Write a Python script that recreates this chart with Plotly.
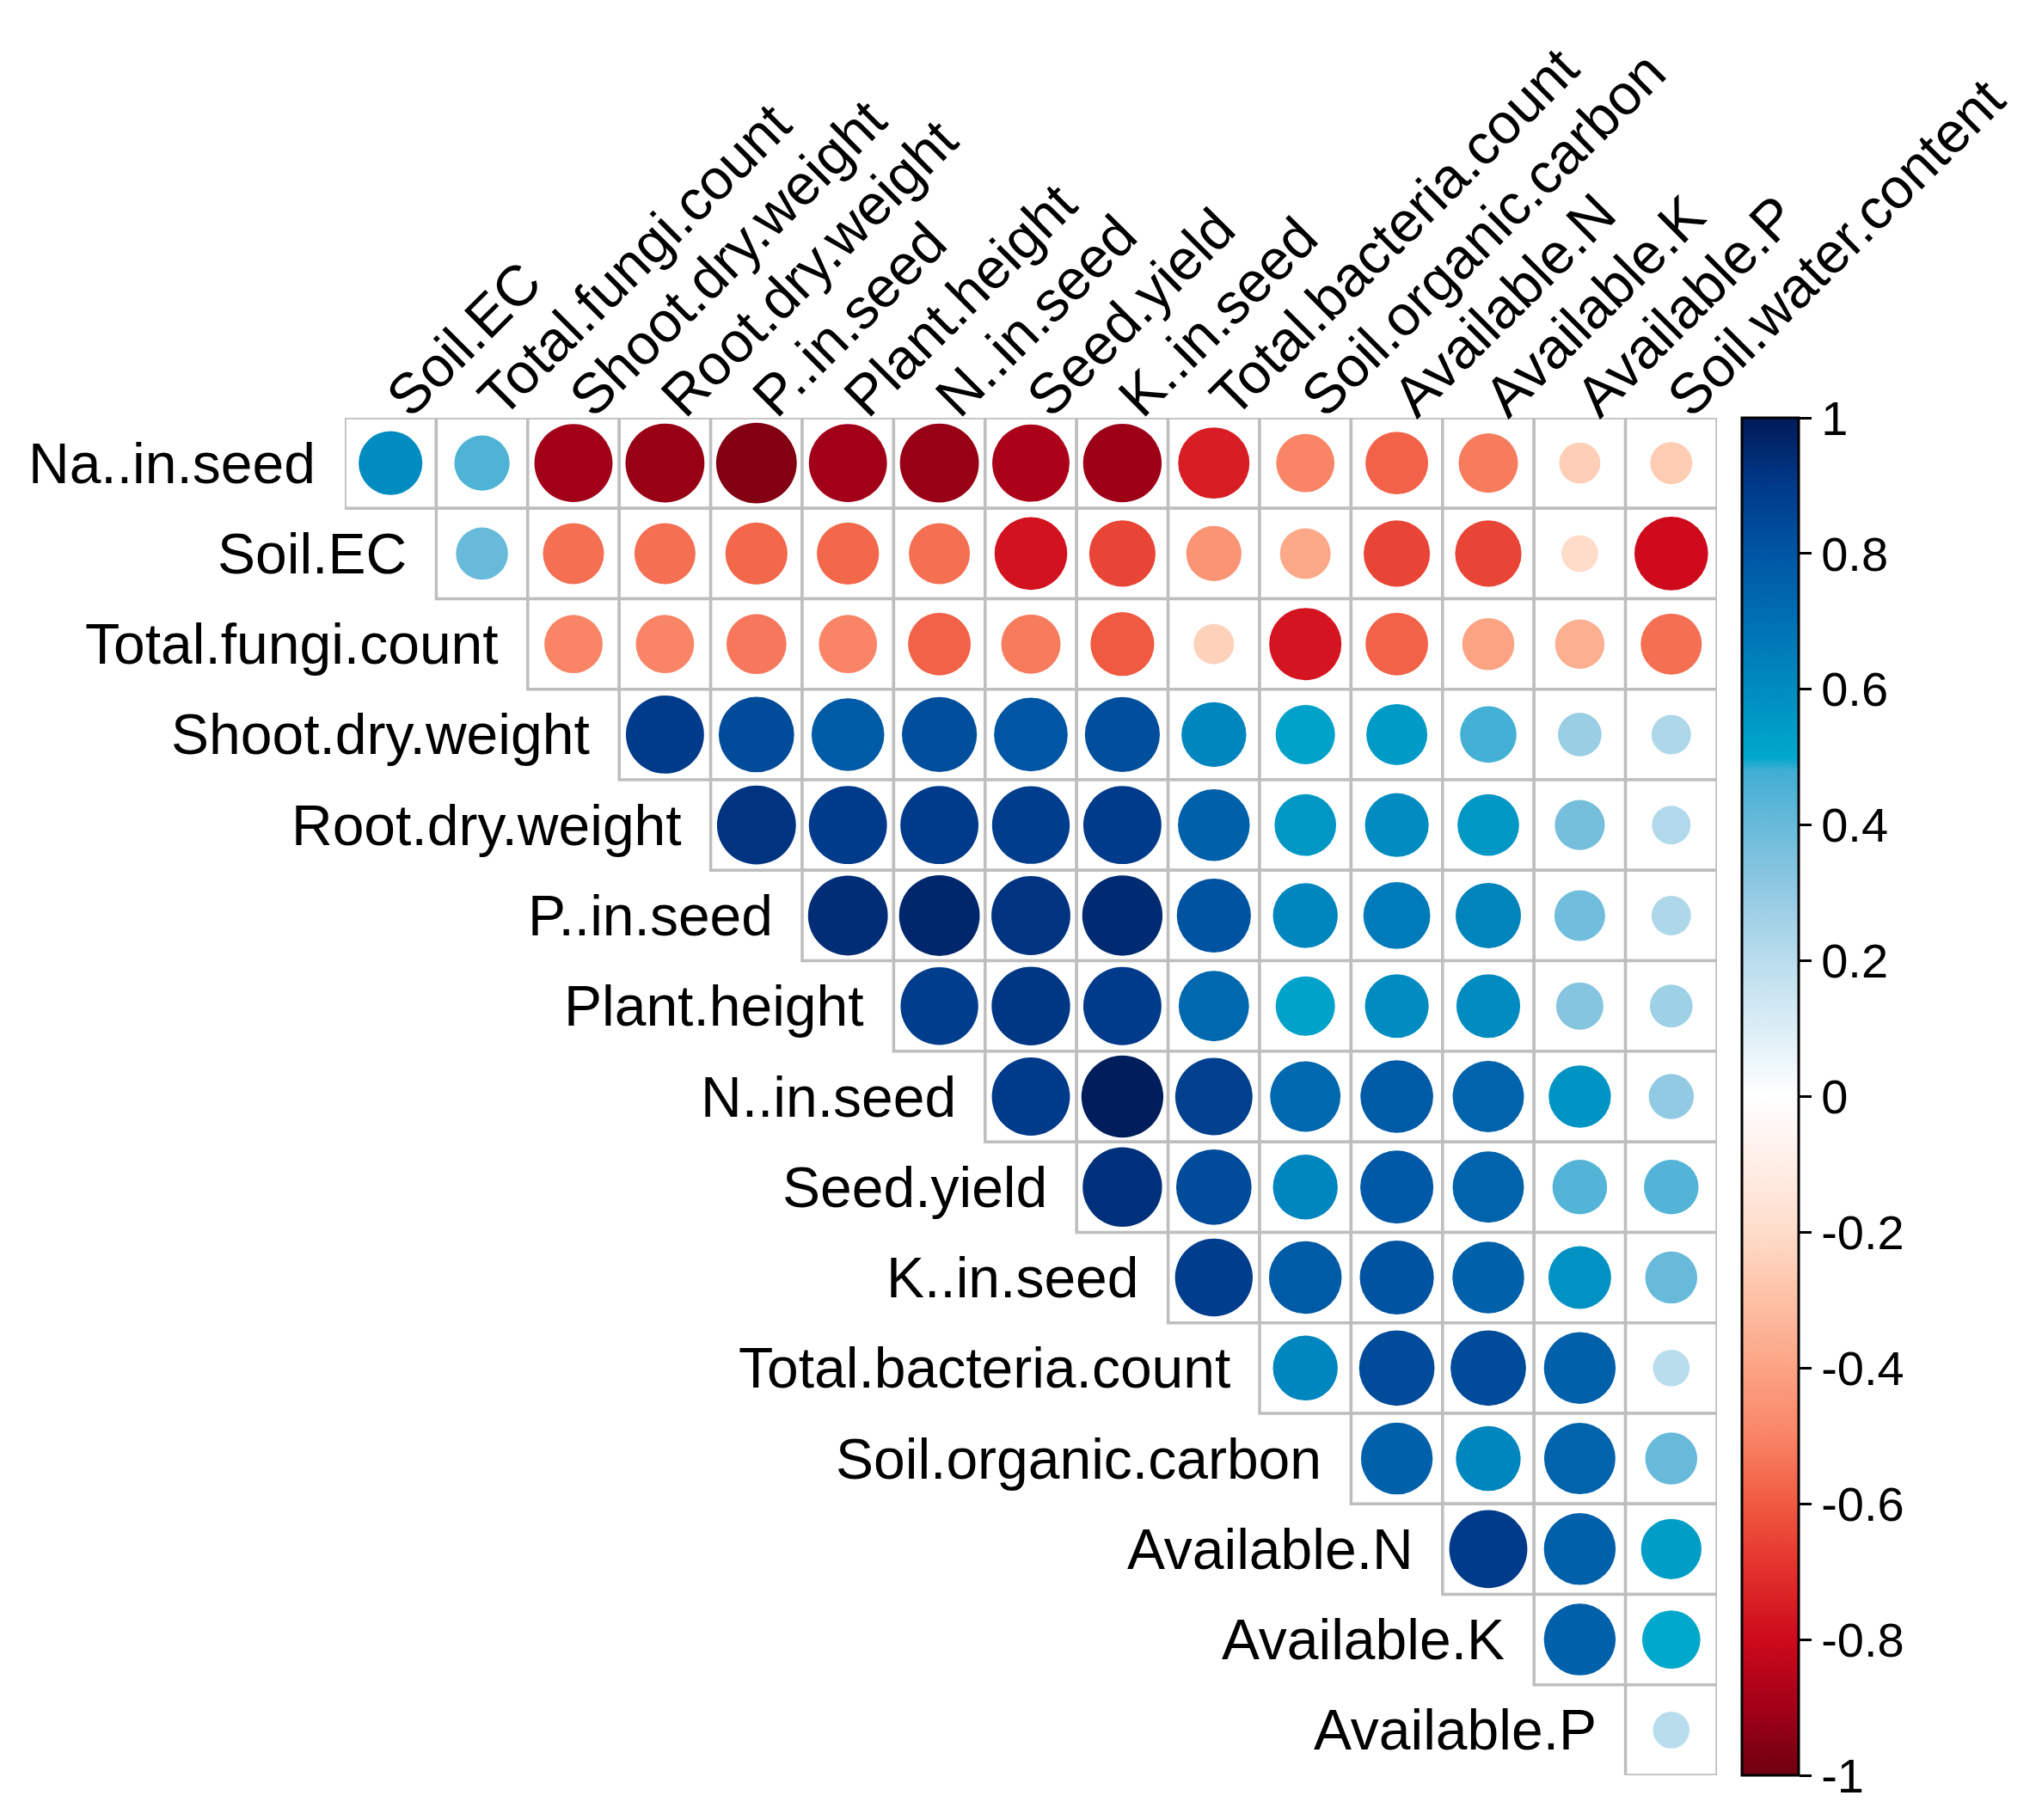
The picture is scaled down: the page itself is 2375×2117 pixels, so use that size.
import plotly.graph_objects as go

# variable names (rows use the first 15, columns the last 15)
variaveis = ['Na..in.seed', 'Soil.EC', 'Total.fungi.count', 'Shoot.dry.weight',
             'Root.dry.weight', 'P..in.seed', 'Plant.height', 'N..in.seed',
             'Seed.yield', 'K..in.seed', 'Total.bacteria.count',
             'Soil.organic.carbon', 'Available.N', 'Available.K', 'Available.P',
             'Soil.water.content']

# correlations, upper triangle, one list per row (starting at the diagonal+1)
na_seed = [0.60, 0.45, -0.90, -0.92, -0.96, -0.90, -0.92, -0.88, -0.91, -0.75, -0.50, -0.58, -0.52, -0.25, -0.26]
soil_ec = [0.40, -0.55, -0.55, -0.57, -0.57, -0.55, -0.78, -0.65, -0.45, -0.38, -0.65, -0.65, -0.20, -0.80]
fungi = [-0.50, -0.50, -0.53, -0.50, -0.58, -0.52, -0.60, -0.24, -0.77, -0.58, -0.40, -0.36, -0.55]
shoot = [0.90, 0.84, 0.78, 0.83, 0.80, 0.83, 0.62, 0.52, 0.55, 0.47, 0.28, 0.23]
root = [0.92, 0.90, 0.90, 0.89, 0.90, 0.76, 0.56, 0.60, 0.56, 0.37, 0.22]
p_seed = [0.94, 0.96, 0.92, 0.95, 0.81, 0.62, 0.66, 0.63, 0.38, 0.23]
plant_h = [0.89, 0.91, 0.90, 0.73, 0.52, 0.60, 0.60, 0.33, 0.27]
n_seed = [0.90, 0.99, 0.88, 0.73, 0.78, 0.75, 0.57, 0.30]
seed_yield = [0.93, 0.84, 0.62, 0.79, 0.75, 0.44, 0.44]
k_seed = [0.89, 0.78, 0.81, 0.76, 0.58, 0.40]
bacteria = [0.62, 0.84, 0.84, 0.76, 0.20]
soc = [0.76, 0.62, 0.75, 0.40]
avail_n = [0.90, 0.76, 0.54]
avail_k = [0.76, 0.50]
avail_p = [0.20]

linhas = [na_seed, soil_ec, fungi, shoot, root, p_seed, plant_h, n_seed,
          seed_yield, k_seed, bacteria, soc, avail_n, avail_k, avail_p]

nomes_linhas = variaveis[:15]
nomes_colunas = variaveis[1:]

# colour ramp
escala = [[0.00, '#6E0010'], [0.05, '#A20018'], [0.10, '#CE0A1C'], [0.15, '#E2302C'],
          [0.20, '#F05A40'], [0.25, '#F98466'], [0.30, '#FCA384'], [0.35, '#FDC0A4'],
          [0.40, '#FFDCCA'], [0.45, '#FFEEE6'], [0.50, '#FFFFFF'], [0.55, '#DCEEF6'],
          [0.60, '#BADDED'], [0.65, '#92CAE3'], [0.70, '#68BADA'], [0.74, '#40AED4'],
          [0.75, '#00A8CC'], [0.80, '#008CC0'], [0.85, '#0070B4'], [0.90, '#0056A4'],
          [0.95, '#003A8A'], [1.00, '#001A57']]

largura, altura = 2375, 2117
m_l, m_r, m_t, m_b = 393, 386, 478, 60
celula = (largura - m_l - m_r) / 15

xs, ys, vals = [], [], []
for i, linha in enumerate(linhas):
    for k, v in enumerate(linha):
        xs.append(i + k)
        ys.append(i)
        vals.append(v)

tamanhos = [0.9 * abs(v) ** 0.5 * celula for v in vals]

fig = go.Figure()

# grid cells
for i, linha in enumerate(linhas):
    for k in range(len(linha)):
        j = i + k
        fig.add_shape(type='rect', x0=j - 0.5, x1=j + 0.5, y0=i - 0.5, y1=i + 0.5,
                      line=dict(color='#BEBEBE', width=3.5), fillcolor='white', layer='below')

fig.add_trace(go.Scatter(
    x=xs, y=ys, mode='markers',
    marker=dict(size=tamanhos, color=vals, colorscale=escala, cmin=-1, cmax=1,
                line=dict(width=0), opacity=1,
                colorbar=dict(x=1.018, xanchor='left', y=0.5, yanchor='middle',
                              len=1.0, lenmode='fraction', thickness=66,
                              outlinewidth=3, outlinecolor='black',
                              ticks='outside', ticklen=14, tickwidth=3, tickcolor='black',
                              tickvals=[1, 0.8, 0.6, 0.4, 0.2, 0, -0.2, -0.4, -0.6, -0.8, -1],
                              ticktext=['1', '0.8', '0.6', '0.4', '0.2', '0', '-0.2', '-0.4', '-0.6', '-0.8', '-1'],
                              tickfont=dict(family='Liberation Sans', size=56, color='black'),
                              xpad=0, ypad=0)),
    hoverinfo='skip', showlegend=False))

# row labels, each ending before its first cell
for i, nome in enumerate(nomes_linhas):
    fig.add_annotation(x=i - 0.5, y=i, text=nome, showarrow=False, xanchor='right',
                       yanchor='middle', xshift=-32,
                       font=dict(family='Liberation Sans', size=66, color='black'))

fig.update_xaxes(range=[-0.5, 14.5], side='top', tickmode='array',
                 tickvals=list(range(15)), ticktext=nomes_colunas, tickangle=-45,
                 tickfont=dict(family='Liberation Sans', size=66, color='black'),
                 showgrid=False, zeroline=False, showline=False, ticks='',
                 ticklabelstandoff=-26)
fig.update_yaxes(range=[14.5, -0.5], showticklabels=False, showgrid=False,
                 zeroline=False, showline=False)

fig.update_layout(width=largura, height=altura,
                  margin=dict(l=m_l, r=m_r, t=m_t, b=m_b, pad=0),
                  plot_bgcolor='white', paper_bgcolor='white')

fig.write_html("out.html")
